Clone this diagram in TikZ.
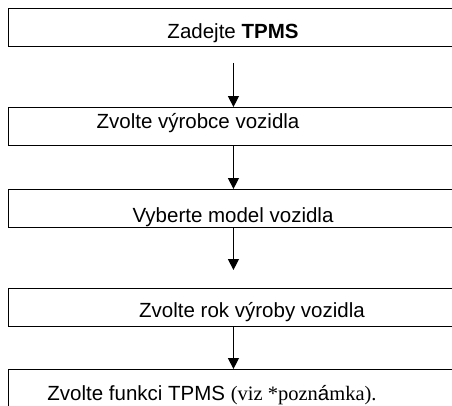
\documentclass[tikz,border=0pt]{standalone}
\usepackage{fontspec}
\setmainfont{Liberation Sans}
\newfontfamily\notefont{Liberation Serif}
\usetikzlibrary{arrows.meta}
\tikzstyle{stepbox}=[draw=black,line width=0.9pt,minimum width=450pt,minimum height=38pt,inner sep=0pt,anchor=north west]
\tikzstyle{steptext}=[anchor=base,inner sep=0pt,font=\fontsize{20.5}{24}\selectfont]
\tikzstyle{flowarrow}=[-{Triangle[width=11pt,length=11pt]},line width=1.3pt]

\begin{document}
\begin{tikzpicture}[x=1pt,y=-1pt]
        \useasboundingbox (0,0) rectangle (452,405);
        \clip (0,0) rectangle (452,405);

        \node[stepbox] (b1) at (8,8) {};
        \node[stepbox] (b2) at (8,107) {};
        \node[stepbox] (b3) at (8,189) {};
        \node[stepbox] (b4) at (8,288) {};
        \node[stepbox] (b5) at (8,369) {};

        \node[steptext] (t1) at (233,38) {Zadejte \textbf{TPMS}};
        \node[steptext] (t2) at (198,128) {Zvolte výrobce vozidla};
        \node[steptext] (t3) at (233,222) {Vyberte model vozidla};
        \node[steptext] (t4) at (252,317) {Zvolte rok výroby vozidla};
        \node[steptext] (t5) at (212,400) {Zvolte funkci TPMS {\notefont(viz *pozn}á{\notefont mka).}};

        \draw[flowarrow,shorten <=16pt] (b1) -- (b2);
        \draw[flowarrow] (b2) -- (b3);
        \draw[flowarrow,shorten >=18pt] (b3) -- (b4);
        \draw[flowarrow] (b4) -- (b5);
    \end{tikzpicture}
\end{document}
